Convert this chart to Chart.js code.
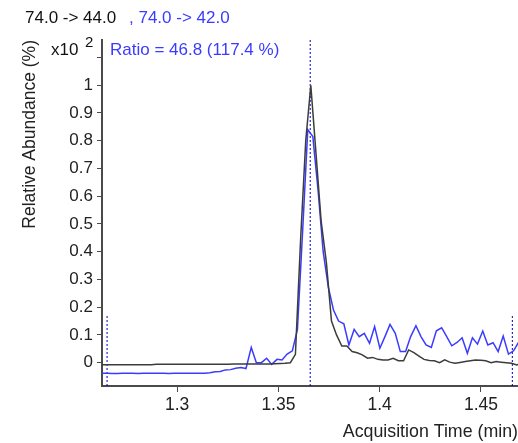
<!DOCTYPE html>
<html>

<head>
    <title>Chromatogram 74.0 -> 44.0 / 74.0 -> 42.0</title>
    <script src="https://cdn.jsdelivr.net/npm/chart.js"></script>
    <style>
        body { margin: 0; background: #fff; }
    </style>
</head>

<body>
    <canvas id="chromChart" width="518" height="443"></canvas>

    <script>
        // Black trace: 74.0 -> 44.0
        const blackTimes = [
            1.2619, 1.2644, 1.2669, 1.2695, 1.2720, 1.2746, 1.2771, 1.2797, 1.2822, 1.2847,
            1.2873, 1.2898, 1.2924, 1.2949, 1.2974, 1.3000, 1.3025, 1.3051, 1.3076, 1.3101,
            1.3127, 1.3152, 1.3178, 1.3203, 1.3228, 1.3254, 1.3279, 1.3305, 1.3330, 1.3356,
            1.3381, 1.3406, 1.3432, 1.3457, 1.3483, 1.3508, 1.3533, 1.3559, 1.3584, 1.3610,
            1.3635, 1.3660, 1.3686, 1.3711, 1.3737, 1.3762, 1.3787, 1.3813, 1.3838, 1.3864,
            1.3889, 1.3914, 1.3940, 1.3965, 1.3991, 1.4016, 1.4041, 1.4067, 1.4092, 1.4118,
            1.4143, 1.4169, 1.4194, 1.4219, 1.4245, 1.4270, 1.4296, 1.4321, 1.4346, 1.4372,
            1.4397, 1.4423, 1.4448, 1.4473, 1.4499, 1.4524, 1.4550, 1.4575, 1.4600, 1.4626,
            1.4651, 1.4677, 1.4702
        ];
        const blackValues = [
            -0.007, -0.007, -0.007, -0.007, -0.007, -0.007, -0.007, -0.007, -0.007, -0.007,
            -0.007, -0.006, -0.006, -0.006, -0.006, -0.006, -0.006, -0.006, -0.006, -0.006,
            -0.006, -0.006, -0.006, -0.006, -0.006, -0.006, -0.005, -0.005, -0.005, -0.005,
            -0.005, -0.005, -0.005, -0.005, -0.004, -0.003, -0.002, 0.000, 0.030, 0.450,
            0.800, 1.000, 0.750, 0.510, 0.360, 0.150, 0.100, 0.060, 0.060, 0.040,
            0.036, 0.028, 0.016, 0.019, 0.012, 0.010, 0.010, 0.016, 0.007, 0.007,
            0.046, 0.036, 0.024, 0.012, 0.008, 0.007, 0.000, 0.010, 0.002, -0.002,
            0.001, 0.004, 0.007, 0.010, 0.009, 0.007, 0.000, 0.004, 0.002, 0.000,
            -0.002, -0.008, -0.002
        ];

        // Blue trace: 74.0 -> 42.0
        const blueTimes = [
            1.2629, 1.2654, 1.2679, 1.2705, 1.2730, 1.2756, 1.2781, 1.2807, 1.2832, 1.2857,
            1.2883, 1.2908, 1.2934, 1.2959, 1.2984, 1.3010, 1.3035, 1.3061, 1.3086, 1.3111,
            1.3137, 1.3162, 1.3188, 1.3213, 1.3238, 1.3264, 1.3289, 1.3315, 1.3340, 1.3366,
            1.3391, 1.3416, 1.3442, 1.3467, 1.3493, 1.3518, 1.3543, 1.3569, 1.3594, 1.3620,
            1.3645, 1.3670, 1.3696, 1.3721, 1.3747, 1.3772, 1.3797, 1.3823, 1.3848, 1.3874,
            1.3899, 1.3924, 1.3950, 1.3975, 1.4001, 1.4026, 1.4051, 1.4077, 1.4102, 1.4128,
            1.4153, 1.4179, 1.4204, 1.4229, 1.4255, 1.4280, 1.4306, 1.4331, 1.4356, 1.4382,
            1.4407, 1.4433, 1.4458, 1.4483, 1.4509, 1.4534, 1.4560, 1.4585, 1.4610, 1.4636,
            1.4661, 1.4687
        ];
        const blueValues = [
            -0.038, -0.038, -0.039, -0.039, -0.038, -0.038, -0.038, -0.039, -0.038, -0.038,
            -0.038, -0.038, -0.038, -0.039, -0.038, -0.038, -0.038, -0.038, -0.038, -0.038,
            -0.038, -0.036, -0.033, -0.032, -0.026, -0.025, -0.020, -0.017, -0.021, 0.055,
            0.000, 0.000, 0.016, -0.006, 0.012, 0.010, 0.031, 0.043, 0.120, 0.480,
            0.840, 0.815, 0.620, 0.400, 0.270, 0.190, 0.150, 0.140, 0.064, 0.120,
            0.094, 0.106, 0.070, 0.130, 0.052, 0.094, 0.138, 0.106, 0.040, 0.040,
            0.094, 0.133, 0.094, 0.064, 0.055, 0.115, 0.126, 0.094, 0.061, 0.073,
            0.090, 0.034, 0.090, 0.067, 0.114, 0.064, 0.072, 0.040, 0.096, 0.031,
            0.043, 0.075
        ];

        // dotted markers: integration start, retention time, integration end
        const markerTimes = [1.2654, 1.3657, 1.4655];
        const markerTops = [0.172, 1.163, 0.172];

        const xTicks = [1.3, 1.35, 1.4, 1.45];
        const yTicks = [0, 0.1, 0.2, 0.3, 0.4, 0.5, 0.6, 0.7, 0.8, 0.9, 1, 1.1];

        const xMin = 1.2629, xMax = 1.4683;
        const yMin = -0.084, yMax = 1.163;

        const FONT = "'Liberation Sans', Arial, sans-serif";
        const AXIS = '#4a4a4a';
        const BLUE = '#3b3bff';

        function pairs(xs, ys) {
            return xs.map((x, i) => ({ x: x, y: ys[i] }));
        }

        const datasets = [
            {
                data: pairs(blackTimes, blackValues),
                borderColor: '#3c3c3c',
                borderWidth: 1.5,
                pointRadius: 0,
                tension: 0
            },
            {
                data: pairs(blueTimes, blueValues),
                borderColor: BLUE,
                borderWidth: 1.5,
                pointRadius: 0,
                tension: 0
            }
        ];
        markerTimes.forEach((t, i) => {
            datasets.push({
                data: [{ x: t, y: yMin }, { x: t, y: markerTops[i] }],
                borderColor: '#0000c0',
                borderWidth: 1,
                borderDash: [2, 2],
                pointRadius: 0
            });
        });

        // header texts above the plot
        const headerPlugin = {
            id: 'header',
            afterDraw(chart) {
                const ctx = chart.ctx;
                ctx.save();
                ctx.textBaseline = 'middle';
                ctx.textAlign = 'left';
                ctx.font = '17px ' + FONT;
                ctx.fillStyle = '#111';
                ctx.fillText('74.0 -> 44.0', 25, 18);
                ctx.fillStyle = BLUE;
                ctx.fillText(', 74.0 -> 42.0', 129, 18);
                ctx.fillStyle = '#111';
                ctx.fillText('x10', 51, 50);
                ctx.font = '15px ' + FONT;
                ctx.fillText('2', 85, 43);
                ctx.font = '17px ' + FONT;
                ctx.fillStyle = BLUE;
                ctx.fillText('Ratio = 46.8 (117.4 %)', 110, 50);
                ctx.restore();
            }
        };

        new Chart(document.getElementById('chromChart').getContext('2d'), {
            type: 'line',
            data: { datasets: datasets },
            plugins: [headerPlugin],
            options: {
                responsive: false,
                animation: false,
                devicePixelRatio: 1,
                layout: { padding: { top: 40, left: 0, right: 0, bottom: 0 } },
                plugins: {
                    legend: { display: false },
                    tooltip: { enabled: false }
                },
                scales: {
                    x: {
                        type: 'linear',
                        min: xMin,
                        max: xMax,
                        afterBuildTicks: (scale) => {
                            scale.ticks = xTicks.map(v => ({ value: v }));
                        },
                        afterFit: (scale) => {
                            scale.height = 57;
                            scale.paddingLeft = 0;
                            scale.paddingRight = 0;
                        },
                        grid: { drawOnChartArea: false, tickLength: 6, color: AXIS, lineWidth: 1 },
                        border: { display: true, color: AXIS, width: 2 },
                        ticks: {
                            maxRotation: 0,
                            padding: 3,
                            color: '#222',
                            font: { family: FONT, size: 17.5 },
                            callback: (v) => String(v)
                        },
                        title: {
                            display: true,
                            text: 'Acquisition Time (min)',
                            align: 'end',
                            color: '#222',
                            font: { family: FONT, size: 17.8 },
                            padding: { top: 2, bottom: 0 }
                        }
                    },
                    y: {
                        type: 'linear',
                        min: yMin,
                        max: yMax,
                        afterBuildTicks: (scale) => {
                            scale.ticks = yTicks.map(v => ({ value: v }));
                        },
                        afterFit: (scale) => {
                            scale.width = 102;
                            scale.paddingTop = 0;
                            scale.paddingBottom = 0;
                        },
                        grid: { drawOnChartArea: false, tickLength: 5, color: AXIS, lineWidth: 1 },
                        border: { display: true, color: AXIS, width: 2 },
                        ticks: {
                            padding: 4,
                            color: '#222',
                            font: { family: FONT, size: 17 },
                            callback: (v) => v > 1.05 ? '' : String(Math.round(v * 10) / 10)
                        },
                        title: {
                            display: true,
                            text: 'Relative Abundance (%)',
                            align: 'end',
                            color: '#222',
                            font: { family: FONT, size: 17.5 },
                            padding: { top: 20, bottom: 0 }
                        }
                    }
                }
            }
        });
    </script>
</body>

</html>
